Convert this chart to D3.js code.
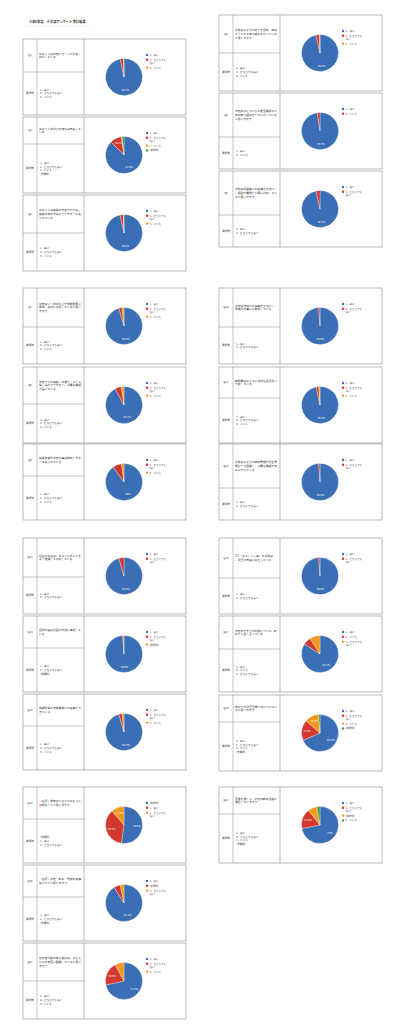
<!DOCTYPE html>
<html>
<head>
<meta charset="utf-8">
<script src="https://cdn.jsdelivr.net/npm/d3@7"></script>
<style>
  html, body { margin: 0; background: #fff; }
  svg { display: block; font-family: "Noto Sans CJK JP", "Noto Sans", sans-serif; }
</style>
</head>
<body>
<svg id="page" width="408" height="1024"></svg>
<script>
const pageTitle = "令和5年度　小学部アンケート 集計結果";

const qLabels = ["Q1","Q2","Q3","Q4","Q5","Q6","Q7","Q8","Q9","Q10","Q11",
                 "Q12","Q13","Q14","Q15","Q16","Q17","Q18","Q19","Q20","Q21","Q22"];

const questions = [
  "お子さんは学校に行くことを楽しみにしている",
  "お子さんの学びの様子は充実している",
  "お子さんは授業の内容がわかる。授業の進め方は分かりやすく工夫されている",
  "学校は子どもの良さを認め、伸ばそうとする取り組みを行っていると思いますか",
  "学校は子どもたちの安全確保のための取り組みを十分に行っていると思いますか",
  "学校は保護者との連携を大切にし、相談や要望に丁寧に対応していると思いますか",
  "学校はいじめの防止や早期発見に努め、適切に対応していると思いますか",
  "学校からの連絡（お便り・メール等）は分かりやすく、必要な情報が届いている",
  "授業参観や学校行事は参加しやすく工夫されている",
  "学校は地域との連携を大切にし、地域の行事にも参加している",
  "教職員は子どもに適切な言葉遣いで接している",
  "学校は子どもの健康管理や衛生管理に十分配慮し、必要な情報を家庭に伝えている",
  "担任の先生は、お子さんのことをよく理解して対応している",
  "個別の指導計画の内容に満足している",
  "放課後等の支援機関との連携ができている",
  "ICT（タブレット等）の活用は、学習の充実に役立っている",
  "学校のきまりや約束について、家庭でも話し合っている",
  "家庭での学習習慣が身についていると思いますか",
  "（任意）昨年度と比べてお子さんは成長したと思いますか",
  "（任意）学校・家庭・地域の連携は十分だと思いますか",
  "感染症対策の取り組みは、子どもたちの安全に配慮していると思いますか",
  "全体を通して、学校の教育活動に満足していますか"
];

const legendLabels = [
  ["1．はい","2．どちらでもない","3．いいえ"],
  ["1．はい","2．どちらでもない","3．いいえ","(未選択)"],
  ["1．はい","2．どちらでもない","3．いいえ"],
  ["1．はい","2．どちらでもない","3．いいえ"],
  ["1．はい","2．いいえ"],
  ["1．はい","2．どちらでもない"],
  ["1．はい","2．どちらでもない","3．いいえ"],
  ["1．はい","2．どちらでもない","3．いいえ"],
  ["1．はい","2．どちらでもない","3．いいえ"],
  ["1．はい","2．どちらでもない"],
  ["1．はい","2．どちらでもない","3．いいえ"],
  ["1．はい","2．どちらでもない"],
  ["1．はい","2．どちらでもない"],
  ["1．はい","2．どちらでもない","(未選択)"],
  ["1．はい","2．どちらでもない","3．いいえ"],
  ["1．はい","2．どちらでもない"],
  ["1．はい","2．いいえ","3．どちらでもない"],
  ["1．はい","2．どちらでもない","3．いいえ","(未選択)"],
  ["(未選択)","1．はい","2．どちらでもない"],
  ["1．はい","(未選択)","2．どちらでもない"],
  ["1．はい","2．どちらでもない","3．いいえ"],
  ["1．はい","2．どちらでもない","(未選択)","3．いいえ"]
];

const values = [
  [96.7, 2.8, 0.5],
  [87.5, 10.2, 0.6, 1.7],
  [96.6, 2.8, 0.6],
  [96.5, 3.0, 0.5],
  [97.7, 2.3],
  [96.6, 3.4],
  [95.5, 2.8, 1.7],
  [92.1, 5.6, 2.3],
  [90, 7.8, 2.2],
  [98.9, 1.1],
  [96.6, 2.3, 1.1],
  [98.9, 1.1],
  [95.5, 4.5],
  [98.9, 0, 1.1],
  [95.5, 2.8, 1.7],
  [98.9, 1.1],
  [84.1, 6.8, 9.1],
  [68.5, 17.9, 12.3, 1.3],
  [52.3, 36.4, 11.3],
  [91.1, 5.6, 3.3],
  [71.6, 20.5, 7.9],
  [72, 17.3, 8.0, 2.7]
];

const palette = ["#3a6fb5", "#d3382e", "#f0981f", "#3a9a3f"];

// page layout (which column, top of each table, height of question row)
const colLeft = [23, 219];
const panelCol = [0,0,0,1,1,1,0,0,0,1,1,1,0,0,0,1,1,1,0,0,0,1];
const panelTop = [39,117,195,15,93,171,288,367,444,288,367,444,538,616,694,538,616,695,787,865,943,787];
const qRowH = [33,27,38,38,44,44,39,37,32,39,31,44,39,32,32,40,33,27,32,32,38,27];
const panelW = 163, panelH = 76, labelW = 14, textW = 47;
const pieR = 18.5;

const svg = d3.select("#page");

svg.append("text")
  .attr("x", 29).attr("y", 22.5)
  .attr("font-size", 3.2).attr("font-weight", 700).attr("fill", "#333")
  .text(pageTitle);
svg.append("line")
  .attr("x1", 26).attr("x2", 92).attr("y1", 26).attr("y2", 26)
  .attr("stroke", "#e6e6e6").attr("stroke-width", 0.5);

const pie = d3.pie().sort(null).value(d => d);
const arc = d3.arc().innerRadius(0).outerRadius(pieR);
const labelArc = d3.arc().innerRadius(pieR * 0.7).outerRadius(pieR * 0.7);
const fmt = v => (Math.round(v * 10) / 10) + "%";

// split a string into lines of n characters
function chunk(s, n) {
  const out = [];
  for (let i = 0; i < s.length; i += n) out.push(s.slice(i, i + n));
  return out;
}

function multiline(g, lines, x, cy, size, lh, anchor) {
  const y0 = cy - (lines.length - 1) * lh / 2 + size * 0.35;
  const t = g.append("text")
    .attr("font-size", size).attr("fill", "#333")
    .attr("text-anchor", anchor || "start");
  lines.forEach((l, i) => {
    t.append("tspan").attr("x", x).attr("y", y0 + i * lh).text(l);
  });
}

qLabels.forEach((q, i) => {
  const x = colLeft[panelCol[i]], y = panelTop[i];
  const g = svg.append("g").attr("transform", `translate(${x},${y})`);
  const qh = qRowH[i];

  // table frame
  g.append("rect")
    .attr("width", panelW).attr("height", panelH)
    .attr("fill", "#fff").attr("stroke", "#8a8a8a").attr("stroke-width", 0.6);
  g.append("line").attr("x1", labelW).attr("x2", labelW).attr("y1", 0).attr("y2", panelH)
    .attr("stroke", "#8a8a8a").attr("stroke-width", 0.5);
  g.append("line").attr("x1", labelW + textW).attr("x2", labelW + textW).attr("y1", 0).attr("y2", panelH)
    .attr("stroke", "#8a8a8a").attr("stroke-width", 0.6);
  g.append("line").attr("x1", 0).attr("x2", labelW + textW).attr("y1", qh).attr("y2", qh)
    .attr("stroke", "#8a8a8a").attr("stroke-width", 0.5);

  // left cells
  multiline(g, [q], labelW / 2, qh / 2, 2.6, 3.6, "middle");
  multiline(g, ["選択肢"], labelW / 2, (qh + panelH) / 2, 2.6, 3.6, "middle");
  multiline(g, chunk(questions[i], 15), labelW + 2, qh / 2, 2.8, 3.7);

  const opts = legendLabels[i].filter(d => d.startsWith("(")).length
    ? legendLabels[i].filter(d => !d.startsWith("(")).concat(["(未選択)"])
    : legendLabels[i];
  multiline(g, i === 18 ? legendLabels[i] : opts, labelW + 3, (qh + panelH) / 2, 2.6, 3.6);

  // pie
  const cx = labelW + textW + 40, cy = 38;
  const pg = g.append("g").attr("transform", `translate(${cx},${cy})`);
  const arcs = pie(values[i]);
  pg.selectAll("path")
    .data(arcs.filter(d => d.value > 0))
    .join("path")
    .attr("d", arc)
    .attr("fill", d => palette[d.index])
    .attr("stroke", "#fff").attr("stroke-width", 0.3);
  pg.selectAll("text")
    .data(arcs.filter(d => d.value >= 10))
    .join("text")
    .attr("transform", d => `translate(${labelArc.centroid(d)})`)
    .attr("text-anchor", "middle").attr("dy", "0.35em")
    .attr("font-size", 2.6).attr("fill", "#fff")
    .text(d => fmt(d.value));

  // legend
  const lg = g.append("g").attr("transform", `translate(${labelW + textW + 63},16)`);
  let ly = 0;
  legendLabels[i].forEach((lab, k) => {
    lg.append("circle").attr("cx", 0).attr("cy", ly).attr("r", 1.2).attr("fill", palette[k]);
    const lines = lab.length > 7 ? [lab.slice(0, 7), lab.slice(7)] : [lab];
    const t = lg.append("text").attr("font-size", 2.5).attr("fill", "#444");
    lines.forEach((l, j) => {
      t.append("tspan").attr("x", 2.6).attr("y", ly + 0.9 + j * 3).text(l);
    });
    ly += 4.8 + (lines.length - 1) * 3;
  });
});
</script>
</body>
</html>
